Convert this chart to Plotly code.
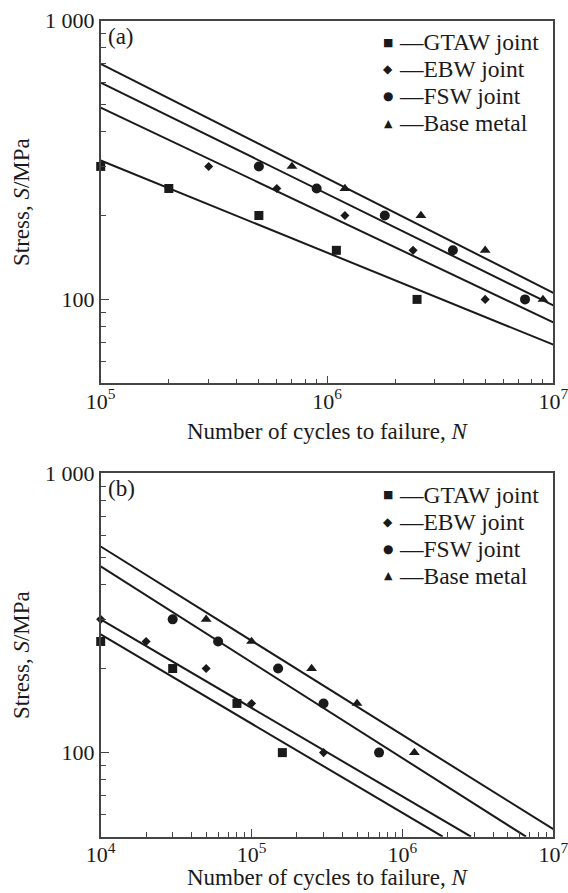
import math
import plotly.graph_objects as go

W, H = 568, 893

# ---------------- data ----------------
# panel (a)
gtaw_a_N = [1e5, 2e5, 5e5, 1.1e6, 2.5e6]
gtaw_a_S = [300, 250, 200, 150, 100]
ebw_a_N = [3e5, 6e5, 1.2e6, 2.4e6, 5e6]
ebw_a_S = [300, 250, 200, 150, 100]
fsw_a_N = [5e5, 9e5, 1.8e6, 3.6e6, 7.5e6]
fsw_a_S = [300, 250, 200, 150, 100]
base_a_N = [7e5, 1.2e6, 2.6e6, 5e6, 9e6]
base_a_S = [300, 250, 200, 150, 100]

fit_a_N = [1e5, 1e7]
fit_a_gtaw = [315, 68.8]
fit_a_ebw = [488, 82.7]
fit_a_fsw = [600, 95.2]
fit_a_base = [700, 105.6]

# panel (b)
gtaw_b_N = [1e4, 3e4, 8e4, 1.6e5]
gtaw_b_S = [250, 200, 150, 100]
ebw_b_N = [1e4, 2e4, 5e4, 1e5, 3e5]
ebw_b_S = [300, 250, 200, 150, 100]
fsw_b_N = [3e4, 6e4, 1.5e5, 3e5, 7e5]
fsw_b_S = [300, 250, 200, 150, 100]
base_b_N = [5e4, 1e5, 2.5e5, 5e5, 1.2e6]
base_b_S = [300, 250, 200, 150, 100]

fit_b_gtaw_N, fit_b_gtaw_S = [1e4, 1.85e6], [265, 50]
fit_b_ebw_N, fit_b_ebw_S = [1e4, 2.85e6], [300, 50]
fit_b_fsw_N, fit_b_fsw_S = [1e4, 6.6e6], [464, 50]
fit_b_base_N, fit_b_base_S = [1e4, 1e7], [547, 53.2]

legend_names = ["GTAW joint", "EBW joint", "FSW joint", "Base metal"]
legend_glyphs = ["\u25A0", "\u25C6", "\u25CF", "\u25B2"]

x_a_ticks = [1e5, 1e6, 1e7]
x_a_text = ["10<sup>5</sup>", "10<sup>6</sup>", "10<sup>7</sup>"]
x_b_ticks = [1e4, 1e5, 1e6, 1e7]
x_b_text = ["10<sup>4</sup>", "10<sup>5</sup>", "10<sup>6</sup>", "10<sup>7</sup>"]
y_ticks = [100, 1000]
y_text = ["100", "1 000"]
y_minor = [60, 70, 80, 90, 200, 300, 400, 500, 600, 700, 800, 900]

# ---------------- styling ----------------
SERIF = "Liberation Serif"
INK = "#1a1a1a"
AX = "#444444"


def px_x(p):
    return p / W


def px_y(p):
    return 1 - p / H


fig = go.Figure()


def add_panel(xa, ya, fits, pts):
    for N, S in fits:
        fig.add_trace(go.Scatter(x=N, y=S, mode="lines", xaxis=xa, yaxis=ya,
                                 line=dict(color=INK, width=2), showlegend=False,
                                 hoverinfo="skip"))
    syms = [("square", 9), ("diamond", 7), ("circle", 10), ("triangle-up", 9.5)]
    for (N, S), (sym, sz) in zip(pts, syms):
        fig.add_trace(go.Scatter(x=N, y=S, mode="markers", xaxis=xa, yaxis=ya,
                                 cliponaxis=False,
                                 marker=dict(symbol=sym, size=sz, color=INK, line=dict(width=0)),
                                 showlegend=False))


add_panel("x", "y",
          [(fit_a_N, fit_a_gtaw), (fit_a_N, fit_a_ebw), (fit_a_N, fit_a_fsw), (fit_a_N, fit_a_base)],
          [(gtaw_a_N, gtaw_a_S), (ebw_a_N, ebw_a_S), (fsw_a_N, fsw_a_S), (base_a_N, base_a_S)])
add_panel("x2", "y2",
          [(fit_b_gtaw_N, fit_b_gtaw_S), (fit_b_ebw_N, fit_b_ebw_S),
           (fit_b_fsw_N, fit_b_fsw_S), (fit_b_base_N, fit_b_base_S)],
          [(gtaw_b_N, gtaw_b_S), (ebw_b_N, ebw_b_S), (fsw_b_N, fsw_b_S), (base_b_N, base_b_S)])


def minor_vals(lo_exp, hi_exp):
    out = []
    for e in range(lo_exp, hi_exp):
        for m in range(2, 10):
            out.append(m * 10 ** e)
    return out


x_dom = [px_x(100.7), px_x(553.3)]
ya_dom = [px_y(383.3), px_y(20.7)]
yb_dom = [px_y(836.7), px_y(473.3)]

tickfont = dict(family=SERIF, size=22, color=INK)


def xaxis_cfg(lo, hi, tv, tt, anchor):
    return dict(type="log", range=[lo, hi], domain=x_dom, anchor=anchor, automargin=False,
                showline=True, linecolor=AX, linewidth=1.6, mirror=True,
                showgrid=False, zeroline=False,
                ticks="inside", ticklen=8, tickwidth=1.3, tickcolor=AX,
                tickvals=tv, ticktext=tt, tickfont=tickfont, ticklabelstandoff=-3,
                ticklabeloverflow="allow",
                minor=dict(tickvals=minor_vals(lo, hi), ticks="inside", ticklen=5,
                           tickwidth=1.3, tickcolor=AX, showgrid=False))


def yaxis_cfg(dom, anchor):
    return dict(type="log", range=[math.log10(50), 3], domain=dom, anchor=anchor,
                automargin=False,
                showline=True, linecolor=AX, linewidth=1.6, mirror=True,
                showgrid=False, zeroline=False,
                ticks="inside", ticklen=8, tickwidth=1.3, tickcolor=AX,
                tickvals=y_ticks, ticktext=y_text, tickfont=tickfont,
                ticklabeloverflow="allow",
                minor=dict(tickvals=y_minor, ticks="inside", ticklen=5, tickwidth=1.3,
                           tickcolor=AX, showgrid=False))


annotations = []
for top, bottom, lab, title_y in [(20.7, 383.3, "(a)", 431), (473.3, 836.7, "(b)", 877)]:
    annotations.append(dict(x=px_x(21), y=px_y((top + bottom) / 2), xref="paper", yref="paper",
                            text="Stress, <i>S</i>/MPa", textangle=-90, showarrow=False,
                            xanchor="center", yanchor="middle",
                            font=dict(family=SERIF, size=23, color=INK)))
    annotations.append(dict(x=px_x(327), y=px_y(title_y), xref="paper", yref="paper",
                            text="Number of cycles to failure, <i>N</i>", showarrow=False,
                            xanchor="center", yanchor="middle",
                            font=dict(family=SERIF, size=23, color=INK)))
    annotations.append(dict(x=px_x(106), y=px_y(top + 15.5), xref="paper", yref="paper",
                            text=lab, showarrow=False, xanchor="left", yanchor="middle",
                            font=dict(family=SERIF, size=23, color=INK)))
    rows = [top + 21.5, top + 48.5, top + 75.5, top + 102.5]
    glyph_sizes = [11, 12, 12, 11]
    for name, g, gs, ry in zip(legend_names, legend_glyphs, glyph_sizes, rows):
        annotations.append(dict(x=px_x(388), y=px_y(ry), xref="paper", yref="paper",
                                text=g, showarrow=False, xanchor="center", yanchor="middle",
                                font=dict(family="DejaVu Sans", size=gs, color=INK)))
        annotations.append(dict(x=px_x(397), y=px_y(ry), xref="paper", yref="paper",
                                text="\u2014" + name, showarrow=False, xanchor="left",
                                yanchor="middle",
                                font=dict(family=SERIF, size=23.5, color=INK)))

fig.update_layout(
    template="none",
    width=W, height=H, margin=dict(l=0, r=0, t=0, b=0, pad=0),
    paper_bgcolor="white", plot_bgcolor="white",
    showlegend=False,
    xaxis=xaxis_cfg(5, 7, x_a_ticks, x_a_text, "y"),
    yaxis=yaxis_cfg(ya_dom, "x"),
    xaxis2=xaxis_cfg(4, 7, x_b_ticks, x_b_text, "y2"),
    yaxis2=yaxis_cfg(yb_dom, "x2"),
    annotations=annotations,
    font=dict(family=SERIF, color=INK),
)

fig.write_html("out.html")
